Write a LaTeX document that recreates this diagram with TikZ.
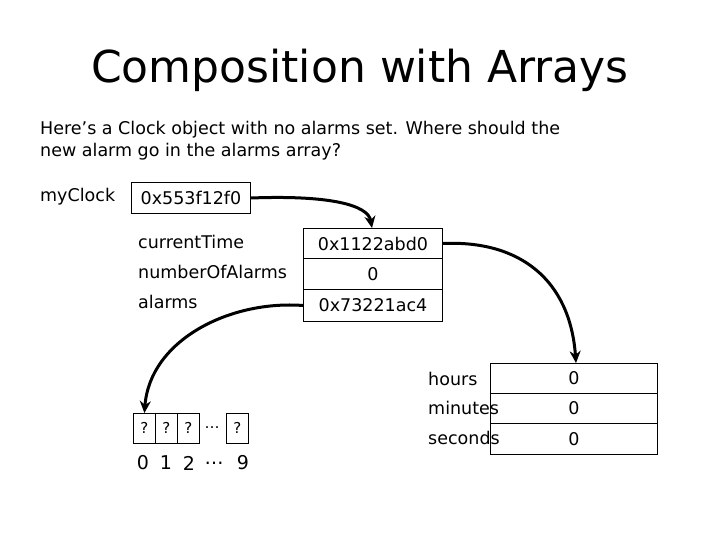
\documentclass[tikz,border=0pt]{standalone}
\usepackage{fontspec}
\setmainfont{DejaVu Sans}
\usetikzlibrary{arrows.meta}
\begin{document}
\begin{tikzpicture}[x=1pt,y=-1pt,
  lbl/.style={anchor=west,inner sep=0pt,font=\fontsize{17.5}{20}\selectfont},
  box/.style={draw,line width=1pt,minimum height=#1,anchor=north west,inner sep=0pt,font=\fontsize{17.5}{20}\selectfont},
  cell/.style={draw,line width=0.8pt,minimum width=22,minimum height=30,anchor=north west,inner sep=0pt,font=\fontsize{15}{18}\selectfont},
  arr/.style={line width=3pt,-{Stealth[length=12pt,width=11pt]}}]
\useasboundingbox (0,0) rectangle (720,540);
\node[font=\fontsize{44}{50}\selectfont] (title) at (360,70) {Composition with Arrays};
\node[anchor=north west,align=left,inner sep=0pt,font=\fontsize{17.5}{22}\selectfont] (q) at (40,121)
 {Here’s a Clock object with no alarms set. Where should the\\new alarm go in the alarms array?};
\node[lbl] (mcl) at (40,197) {myClock};
\node[box=31,minimum width=119] (mc) at (131,182) {0x553f12f0};
\node[lbl] (l1) at (138,242) {currentTime};
\node[lbl] (l2) at (138,272) {numberOfAlarms};
\node[lbl] (l3) at (138,302) {alarms};
\node[box=30,minimum width=139] (o1) at (303,228) {0x1122abd0};
\node[box=31,minimum width=139] (o2) at (303,258) {0};
\node[box=32,minimum width=139] (o3) at (303,289) {0x73221ac4};
\node[lbl] (h) at (428,379) {hours};
\node[lbl] (m) at (428,408) {minutes};
\node[lbl] (s) at (428,438) {seconds};
\node[box=30,minimum width=167] (t1) at (490,363) {0};
\node[box=30,minimum width=167] (t2) at (490,393) {0};
\node[box=31,minimum width=167] (t3) at (490,423) {0};
\node[cell] (c0) at (133,413) {?};
\node[cell] (c1) at (155,413) {?};
\node[cell] (c2) at (177,413) {?};
\node[font=\fontsize{15}{18}\selectfont] (cd) at (212,428) {…};
\node[cell] (c9) at (226,413) {?};
\foreach \t/\xx in {0/143,1/166,2/189,…/214,9/243}
  \node[font=\fontsize{19}{22}\selectfont] at (\xx,463) {\t};
\draw[arr] (mc.east) .. controls (330,195) and (368,205) .. (o1.north west -| 372,0);
\draw[arr] (o1.east) .. controls (520,240) and (570,280) .. (t1.north west -| 576,0);
\draw[arr] (o3.west) .. controls (230,300) and (150,340) .. (c0.north);
\end{tikzpicture}
\end{document}
